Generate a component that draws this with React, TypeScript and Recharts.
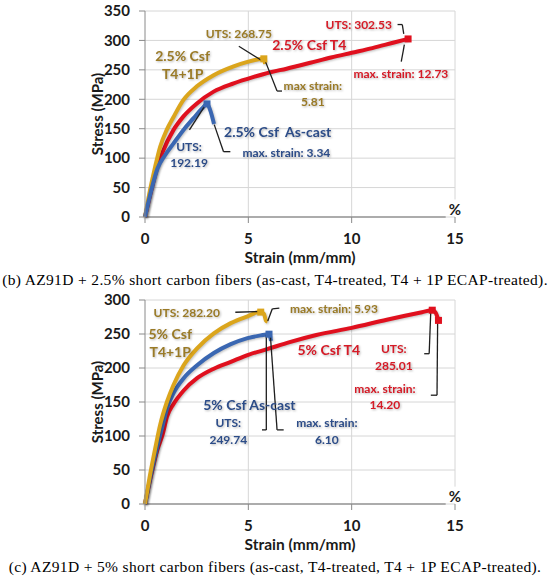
import React from 'react'
import {
  LineChart,
  Line,
  XAxis,
  YAxis,
  CartesianGrid,
  ReferenceLine,
  ReferenceDot,
} from 'recharts'

const FONT = 'Lato, "Open Sans", sans-serif'
const GOLD = '#dba51c'
const GOLD_TEXT = '#9a7a26'
const RED = '#e0101e'
const RED_TEXT = '#d61a26'
const BLUE = '#3a67b2'
const BLUE_TEXT = '#2c4c88'

const strainTicks = [0, 5, 10, 15]
const stressTicksB = [0, 50, 100, 150, 200, 250, 300, 350]
const stressTicksC = [0, 50, 100, 150, 200, 250, 300]

// (b) 2.5% Csf
const castBStrain = [0, 0.3, 0.6, 0.97, 1.38, 1.86, 2.35, 2.75, 3.0, 3.15, 3.34]
const castBStress = [0, 45, 82, 105, 125, 148, 168, 184, 192.19, 182, 158]
const t4BStrain = [0, 0.3, 0.6, 0.85, 1.38, 1.86, 2.51, 3.32, 4.29, 5.26, 6.07, 6.85, 8, 9, 10, 11, 12, 12.73]
const t4BStress = [0, 45, 85, 110, 148, 171, 193, 213, 227, 238, 246, 252, 262, 271, 279, 287, 296, 302.53]
const ecapBStrain = [0, 0.24, 0.49, 0.73, 1.05, 1.38, 1.86, 2.51, 3.32, 4.29, 5.0, 5.5, 5.75, 5.81]
const ecapBStress = [0, 45, 85, 119, 148, 170, 199, 222, 241, 256, 264, 268, 268.75, 260]

// (c) 5% Csf
const castCStrain = [0, 0.3, 0.6, 0.85, 1.06, 1.38, 1.87, 2.52, 3.33, 4.15, 4.96, 5.6, 6.0, 6.1]
const castCStress = [0, 45, 85, 115, 140, 163, 185, 204, 222, 235, 244, 248, 249.74, 240]
const t4CStrain = [0, 0.3, 0.6, 0.86, 1.06, 1.38, 1.87, 2.52, 3.33, 4.15, 4.96, 5.94, 7.0, 8.29, 10.0, 11.7, 13.4, 13.9, 14.05, 14.2]
const t4CStress = [0, 43, 80, 103, 128, 147, 167, 185, 199, 209, 219, 228, 238, 248.5, 259, 271, 282, 285.01, 282, 270]
const ecapCStrain = [0, 0.24, 0.49, 0.73, 1.06, 1.38, 1.87, 2.52, 3.33, 4.15, 4.96, 5.53, 5.75, 5.85, 5.93]
const ecapCStress = [0, 42, 81, 116, 150, 175, 204, 229, 251, 266, 276, 282.2, 280, 270, 268]

const rows = (xs: number[], ys: number[]) => xs.map((x, i) => ({ x, y: ys[i] }))

type Series = { name: string; color: string; data: { x: number; y: number }[] }
type Note = { x: number; y: number; text: string; color: string; big?: boolean }
type Leader = [number, number][]
type Marker = { x: number; y: number; color: string }

const seriesB: Series[] = [
  { name: '2.5% Csf T4', color: RED, data: rows(t4BStrain, t4BStress) },
  { name: '2.5% Csf T4+1P', color: GOLD, data: rows(ecapBStrain, ecapBStress) },
  { name: '2.5% Csf As-cast', color: BLUE, data: rows(castBStrain, castBStress) },
]

const seriesC: Series[] = [
  { name: '5% Csf T4', color: RED, data: rows(t4CStrain, t4CStress) },
  { name: '5% Csf As-cast', color: BLUE, data: rows(castCStrain, castCStress) },
  { name: '5% Csf T4+1P', color: GOLD, data: rows(ecapCStrain, ecapCStress) },
]

const notesB: Note[] = [
  { x: 10.34, y: 326.6, text: 'UTS: 302.53', color: RED_TEXT },
  { x: 7.95, y: 292.6, text: '2.5% Csf T4', color: RED_TEXT, big: true },
  { x: 12.38, y: 243, text: 'max. strain: 12.73', color: RED_TEXT },
  { x: 4.54, y: 312.6, text: 'UTS: 268.75', color: GOLD_TEXT },
  { x: 1.82, y: 274, text: '2.5% Csf', color: GOLD_TEXT, big: true },
  { x: 1.82, y: 243, text: 'T4+1P', color: GOLD_TEXT, big: true },
  { x: 8.12, y: 222.8, text: 'max strain:', color: GOLD_TEXT },
  { x: 8.12, y: 196, text: '5.81', color: GOLD_TEXT },
  { x: 2.13, y: 119, text: 'UTS:', color: BLUE_TEXT },
  { x: 2.13, y: 92, text: '192.19', color: BLUE_TEXT },
  { x: 6.42, y: 145, text: '2.5% Csf  As-cast', color: BLUE_TEXT, big: true },
  { x: 6.84, y: 109, text: 'max. strain: 3.34', color: BLUE_TEXT },
]

const leadersB: Leader[] = [
  [[4.54, 290], [5.65, 266]],
  [[5.83, 264], [6.39, 214], [6.63, 214]],
  [[12.22, 327], [12.45, 327], [12.52, 311]],
  [[12.55, 293], [12.4, 264]],
  [[2.15, 148], [2.99, 194]],
  [[3.35, 157], [3.8, 111], [4.13, 111]],
]

const markersB: Marker[] = [
  { x: 3.0, y: 192.19, color: BLUE },
  { x: 12.73, y: 302.53, color: RED },
  { x: 5.75, y: 268.75, color: GOLD },
]

const notesC: Note[] = [
  { x: 2.02, y: 282, text: 'UTS: 282.20', color: GOLD_TEXT },
  { x: 9.14, y: 287, text: 'max. strain: 5.93', color: GOLD_TEXT },
  { x: 1.22, y: 251, text: '5% Csf', color: GOLD_TEXT, big: true },
  { x: 1.22, y: 224, text: 'T4+1P', color: GOLD_TEXT, big: true },
  { x: 5.05, y: 147, text: '5% Csf As-cast', color: BLUE_TEXT, big: true },
  { x: 4.03, y: 120, text: 'UTS:', color: BLUE_TEXT },
  { x: 4.03, y: 95, text: '249.74', color: BLUE_TEXT },
  { x: 8.8, y: 120, text: 'max. strain:', color: BLUE_TEXT },
  { x: 8.8, y: 95, text: '6.10', color: BLUE_TEXT },
  { x: 8.89, y: 226.5, text: '5% Csf T4', color: RED_TEXT, big: true },
  { x: 12.04, y: 229, text: 'UTS:', color: RED_TEXT },
  { x: 12.04, y: 204, text: '285.01', color: RED_TEXT },
  { x: 11.61, y: 170, text: 'max. strain:', color: RED_TEXT },
  { x: 11.61, y: 146.6, text: '14.20', color: RED_TEXT },
]

const leadersC: Leader[] = [
  [[4.37, 282], [5.5, 283]],
  [[5.94, 269], [6.16, 287], [6.5, 288]],
  [[5.87, 249], [5.87, 109], [5.66, 109]],
  [[6.07, 246], [6.39, 109], [6.71, 109]],
  [[13.83, 285], [13.75, 221], [13.51, 221]],
  [[14.16, 270], [14.13, 160], [13.83, 160]],
]

const markersC: Marker[] = [
  { x: 5.6, y: 282.2, color: GOLD },
  { x: 6.0, y: 249.74, color: BLUE },
  { x: 13.9, y: 285.01, color: RED },
  { x: 14.2, y: 270, color: RED },
]

const tickStyle = { fontFamily: FONT, fontWeight: 700, fontSize: 15, fill: '#1a1a1a' }
const textShadow = 'drop-shadow(1px 1.5px 1.2px rgba(0,0,0,0.28))'

interface PanelProps {
  yMax: number
  yTicks: number[]
  series: Series[]
  notes: Note[]
  leaders: Leader[]
  markers: Marker[]
  top: number
  bottom: number
}

function Panel({ yMax, yTicks, series, notes, leaders, markers, top, bottom }: PanelProps) {
  return (
    <LineChart width={550} height={290} margin={{ top, right: 95, left: 85, bottom }}>
      <CartesianGrid stroke="#d6d6d6" verticalValues={[5, 10]} />
      <ReferenceLine
        segment={[{ x: 15, y: yMax * 0.085 }, { x: 15, y: yMax }]}
        stroke="#d6d6d6"
        ifOverflow="visible"
      />
      <XAxis
        type="number"
        dataKey="x"
        domain={[0, 15]}
        ticks={strainTicks}
        axisLine={false}
        tickLine={{ stroke: '#8a8a8a' }}
        tickSize={6}
        tickMargin={10}
        tick={tickStyle}
        height={50}
        label={(props: any) => {
          const vb = props.viewBox || {}
          return (
            <text
              x={vb.x + vb.width / 2}
              y={vb.y + 40}
              textAnchor="middle"
              dominantBaseline="central"
              style={{ ...tickStyle, fontSize: 15.5 }}
            >
              Strain (mm/mm)
            </text>
          )
        }}
      />
      <YAxis
        type="number"
        domain={[0, yMax]}
        ticks={yTicks}
        axisLine={{ stroke: '#8a8a8a' }}
        tickLine={{ stroke: '#8a8a8a' }}
        tickSize={6}
        tickMargin={9}
        tick={tickStyle}
        width={60}
        label={(props: any) => {
          const vb = props.viewBox || {}
          const cy = vb.y + vb.height / 2
          return (
            <text
              x={96.5}
              y={cy}
              textAnchor="middle"
              dominantBaseline="central"
              transform={`rotate(-90, 96.5, ${cy})`}
              style={{ ...tickStyle, fontSize: 15 }}
            >
              Stress (MPa)
            </text>
          )
        }}
      />
      <ReferenceLine
        segment={[{ x: 0, y: 0 }, { x: 14.55, y: 0 }]}
        stroke="#6f6f6f"
        strokeWidth={1.2}
        ifOverflow="visible"
      />
      {series.map((s) => (
        <Line
          key={s.name}
          name={s.name}
          data={s.data}
          dataKey="y"
          type="monotone"
          stroke={s.color}
          strokeWidth={4}
          dot={false}
          activeDot={false}
          isAnimationActive={false}
          style={{ filter: 'drop-shadow(1px 1.5px 1px rgba(0,0,0,0.25))' }}
        />
      ))}
      {markers.map((m, i) => (
        <ReferenceDot
          key={'m' + i}
          x={m.x}
          y={m.y}
          ifOverflow="visible"
          shape={(p: any) => (
            <rect x={p.cx - 3.5} y={p.cy - 3.5} width={7} height={7} fill={m.color} />
          )}
        />
      ))}
      {leaders.map((l, i) =>
        l.slice(1).map((pt, j) => (
          <ReferenceLine
            key={'l' + i + '-' + j}
            segment={[{ x: l[j][0], y: l[j][1] }, { x: pt[0], y: pt[1] }]}
            stroke="#1e1e1e"
            strokeWidth={1.3}
            ifOverflow="visible"
          />
        ))
      )}
      {notes.map((n, i) => (
        <ReferenceDot
          key={'n' + i}
          x={n.x}
          y={n.y}
          ifOverflow="visible"
          shape={(p: any) => (
            <text
              x={p.cx}
              y={p.cy}
              textAnchor="middle"
              dominantBaseline="central"
              style={{
                fontFamily: FONT,
                fontWeight: 700,
                fontSize: n.big ? 14 : 12,
                fill: n.color,
                whiteSpace: 'pre',
                filter: textShadow,
              }}
            >
              {n.text}
            </text>
          )}
        />
      ))}
      <ReferenceDot
        x={15}
        y={yMax * 0.02}
        ifOverflow="visible"
        shape={(p: any) => (
          <text
            x={p.cx}
            y={p.cy - 4}
            textAnchor="middle"
            dominantBaseline="central"
            style={{ ...tickStyle, fontSize: 15 }}
          >
            %
          </text>
        )}
      />
    </LineChart>
  )
}

const captionStyle: React.CSSProperties = {
  position: 'absolute',
  left: 0,
  width: 550,
  textAlign: 'center',
  whiteSpace: 'nowrap',
  fontFamily: '"Liberation Serif", "DejaVu Serif", serif',
  fontSize: 15.5,
  letterSpacing: 0.35,
  lineHeight: '18px',
  color: '#000',
}

export default function App() {
  return (
    <div style={{ position: 'absolute', left: 0, top: 0, width: 550, height: 580, background: '#fff' }}>
      <div style={{ position: 'absolute', left: 0, top: 0 }}>
        <Panel
          top={11}
          bottom={23}
          yMax={350}
          yTicks={stressTicksB}
          series={seriesB}
          notes={notesB}
          leaders={leadersB}
          markers={markersB}
        />
      </div>
      <div style={{ ...captionStyle, top: 271 }}>
        (b) AZ91D + 2.5% short carbon fibers (as-cast, T4-treated, T4 + 1P ECAP-treated).
      </div>
      <div style={{ position: 'absolute', left: 0, top: 290 }}>
        <Panel
          top={10}
          bottom={26}
          yMax={300}
          yTicks={stressTicksC}
          series={seriesC}
          notes={notesC}
          leaders={leadersC}
          markers={markersC}
        />
      </div>
      <div style={{ ...captionStyle, top: 558 }}>
        (c) AZ91D + 5% short carbon fibers (as-cast, T4-treated, T4 + 1P ECAP-treated).
      </div>
    </div>
  )
}
